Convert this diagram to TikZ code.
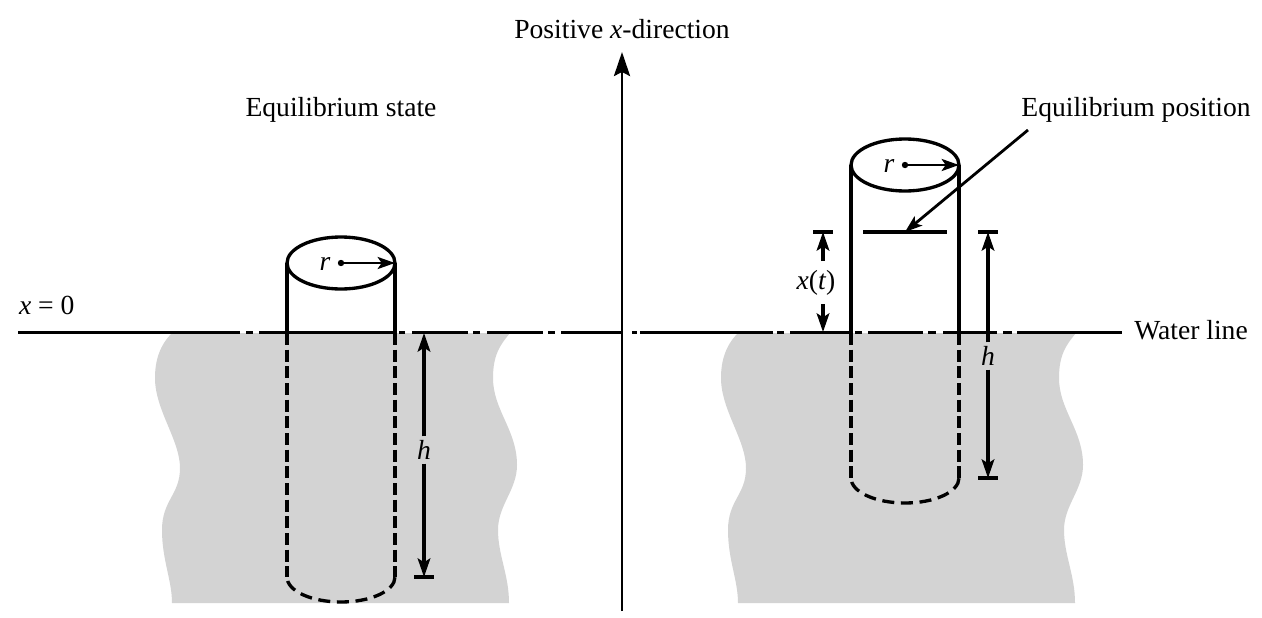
\documentclass[tikz,border=0pt]{standalone}
\usepackage{fontspec}
\setmainfont{Liberation Serif}
\usetikzlibrary{arrows.meta}
\definecolor{watergray}{HTML}{D3D3D3}

\begin{document}
\begin{tikzpicture}[x=0.75pt, y=-0.75pt,
    font=\fontsize{20.7}{24}\selectfont,
    heavy/.style={line width=2.5pt},
    dimarrow/.style={line width=2.3pt, -{Stealth[length=14pt, width=9.5pt, inset=3pt]}},
    radarrow/.style={line width=2.1pt, -{Stealth[length=13pt, width=9pt, inset=3pt]}},
    hidden/.style={heavy, dash pattern=on 9pt off 3.5pt},
    hiddenarc/.style={heavy, dash pattern=on 9pt off 5pt, dash phase=11pt},
    label/.style={inner sep=0pt, outer sep=3pt}]
    \useasboundingbox (0,0) rectangle (1262,617);

    % water
    \foreach \dx in {0,566}
        \fill[watergray, shift={(\dx,0)}] (172,333)
            .. controls (160,345) and (155,360) .. (155,378)
            .. controls (155,410) and (180,440) .. (180,468)
            .. controls (180,495) and (162,500) .. (162,530)
            .. controls (162,560) and (172,580) .. (172,603)
            -- (509,603)
            .. controls (509,575) and (498,555) .. (498,530)
            .. controls (498,505) and (517,490) .. (517,465)
            .. controls (517,430) and (493,410) .. (493,378)
            .. controls (493,355) and (500,345) .. (510,333) -- cycle;

    % water line, broken by its dash-dots
    \foreach \xa/\xb in {18/240,246/253,259/397,399/405,412/468,473/480,487/543,548/555,561/623,
        632/637,640/773,777/784,790/851,855/862,868/923,928/936,943/997,1003/1012,1017/1122}
        \draw[heavy] (\xa,332.5) -- (\xb,332.5);

    % axis
    \coordinate (axisfoot) at (622,611);
    \node[label] (axislabel) at (622,29.5) {Positive \textit{x}-direction};
    \coordinate (axistop) at (622,52);
    \draw[line width=2.2pt, -{Stealth[length=18pt, width=12pt, inset=3pt]}] (axisfoot) -- (axistop);

    % cylinders
    \foreach \cx/\ty/\by in {341/263/577,905/165/478} {
        \coordinate (top\cx) at (\cx,\ty);
        \coordinate (topl\cx) at ({\cx-54},\ty);
        \coordinate (topr\cx) at ({\cx+54},\ty);
        \coordinate (wl\cx) at ({\cx-54},333);
        \coordinate (wr\cx) at ({\cx+54},333);
        \coordinate (botl\cx) at ({\cx-54},\by);
        \coordinate (botr\cx) at ({\cx+54},\by);
        \draw[heavy] (top\cx) ellipse [x radius=54, y radius=26];
        \draw[heavy] (topl\cx) -- (wl\cx);
        \draw[heavy] (topr\cx) -- (wr\cx);
        \draw[hidden] (wl\cx) -- (botl\cx);
        \draw[hidden] (wr\cx) -- (botr\cx);
        \draw[hiddenarc] (botl\cx) arc [start angle=180, end angle=0, x radius=54, y radius=25];
        \fill (top\cx) circle (2.4pt);
        \draw[radarrow] (top\cx) -- (topr\cx);
        \node[label] (r\cx) at ({\cx-16},{\ty+1}) {\textit{r}};
    }

    % left dimension
    \node[label] (hleft) at (424,450) {\textit{h}};
    \coordinate (hlefttop) at (424,333);
    \coordinate (hleftbot) at (424,577);
    \coordinate (tickl) at (414,577);
    \coordinate (tickr) at (434,577);
    \draw[heavy] (tickl) -- (tickr);
    \draw[dimarrow] (hleft) -- (hlefttop);
    \draw[dimarrow] (hleft) -- (hleftbot);

    % right dimensions
    \node[label] (xt) at (816,283) {\textit{x}(\textit{t})};
    \coordinate (xttop) at (823,232);
    \coordinate (xtbot) at (823,332);
    \coordinate (xtabove) at (823,261);
    \coordinate (xtbelow) at (823,304);
    \coordinate (xttickl) at (813,232);
    \coordinate (xttickr) at (833,232);
    \draw[heavy] (xttickl) -- (xttickr);
    \draw[dimarrow] (xtabove) -- (xttop);
    \draw[dimarrow] (xtbelow) -- (xtbot);

    \node[label] (hright) at (988,356) {\textit{h}};
    \coordinate (hrighttop) at (988,232);
    \coordinate (hrightbot) at (988,478);
    \coordinate (htoplft) at (978,232);
    \coordinate (htoprgt) at (998,232);
    \coordinate (hbotlft) at (978,478);
    \coordinate (hbotrgt) at (998,478);
    \draw[heavy] (htoplft) -- (htoprgt);
    \draw[heavy] (hbotlft) -- (hbotrgt);
    \draw[dimarrow] (hright) -- (hrighttop);
    \draw[dimarrow] (hright) -- (hrightbot);

    % equilibrium mark
    \coordinate (eql) at (863,232);
    \coordinate (eqr) at (947,232);
    \coordinate (eqm) at (905,232);
    \coordinate (eqfrom) at (1028,130);
    \draw[heavy] (eql) -- (eqr);
    \draw[radarrow] (eqfrom) -- (eqm);

    % labels
    \node[label] (state) at (341,110) {Equilibrium state};
    \node[label] (position) at (1136,110) {Equilibrium position};
    \node[label, anchor=west] (zero) at (15,305) {\textit{x} = 0};
    \node[label] (waterline) at (1191,330.5) {Water line};
\end{tikzpicture}
\end{document}
